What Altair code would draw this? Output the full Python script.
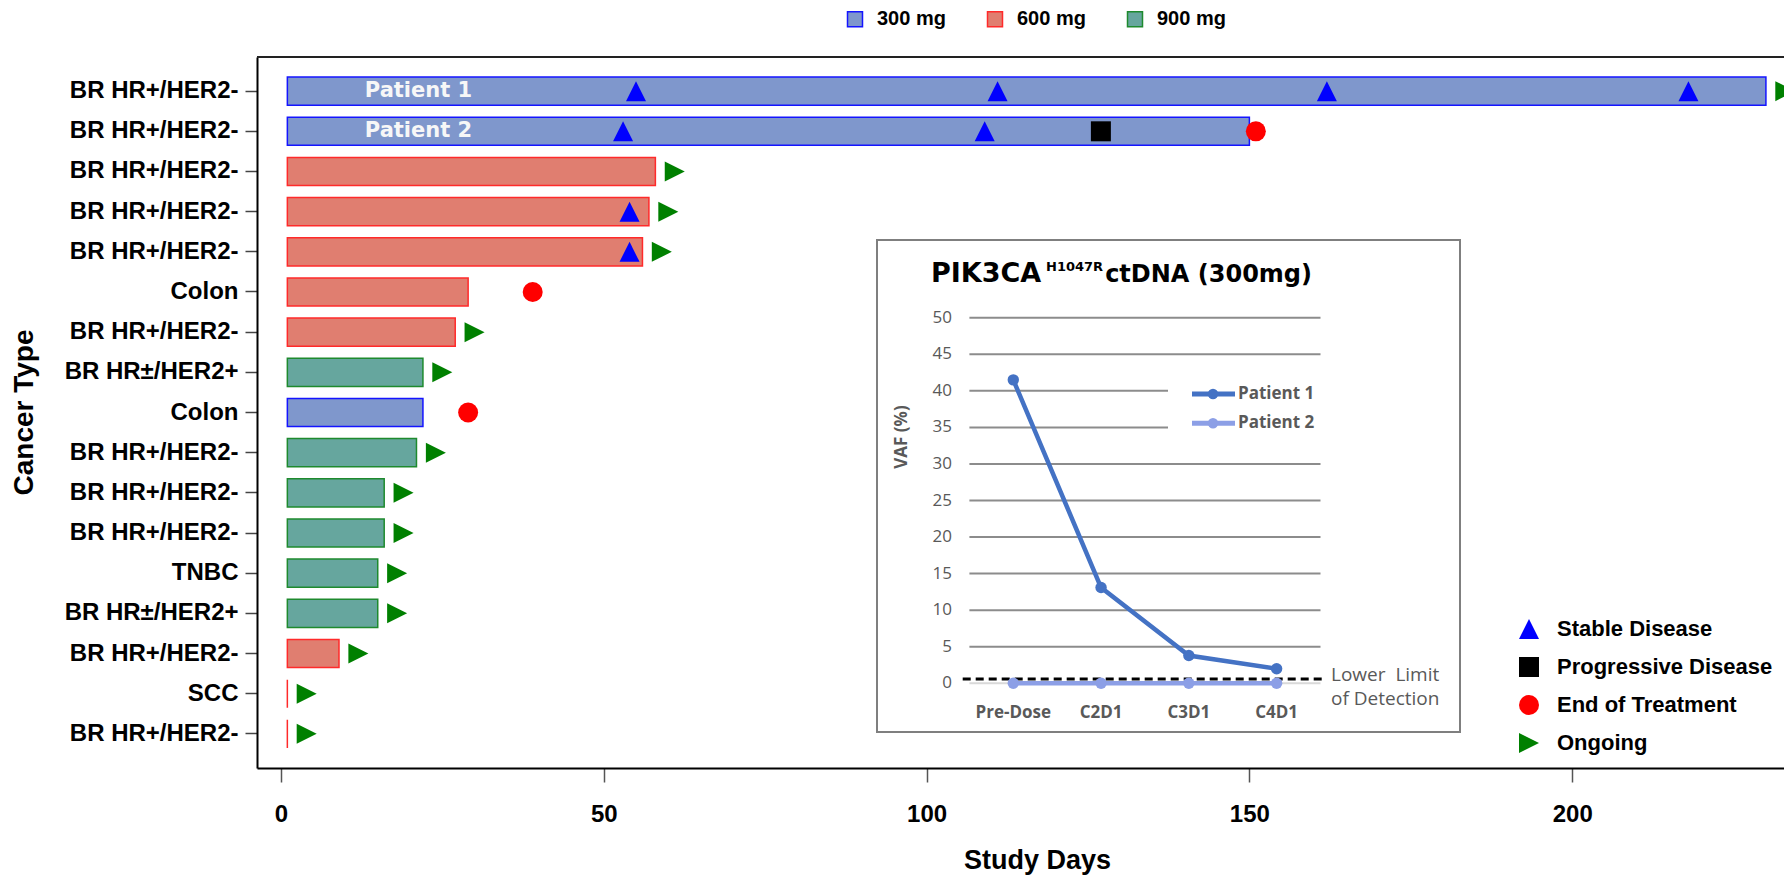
import json
import altair as alt
import pandas as pd

# ---------------- main swimmer-plot data ----------------
cancer_types = ["BR HR+/HER2-", "BR HR+/HER2-", "BR HR+/HER2-", "BR HR+/HER2-", "BR HR+/HER2-",
                "Colon", "BR HR+/HER2-", "BR HR±/HER2+", "Colon", "BR HR+/HER2-",
                "BR HR+/HER2-", "BR HR+/HER2-", "TNBC", "BR HR±/HER2+", "BR HR+/HER2-",
                "SCC", "BR HR+/HER2-"]
doses = ["300 mg", "300 mg", "600 mg", "600 mg", "600 mg",
         "600 mg", "600 mg", "900 mg", "300 mg", "900 mg",
         "900 mg", "900 mg", "900 mg", "900 mg", "600 mg",
         "600 mg", "600 mg"]
start_days = [1, 1, 1, 1, 1, 1, 1, 1, 1, 1, 1, 1, 1, 1, 1, 1, 1]
end_days = [230, 150, 58, 57, 56, 29, 27, 22, 22, 21, 16, 16, 15, 15, 9, 1, 1]

sd_rows = [1, 1, 1, 1, 2, 2, 4, 5]
sd_days = [55, 111, 162, 218, 53, 109, 54, 54]
pd_rows = [2]
pd_days = [127]
eot_rows = [2, 6, 9]
eot_days = [151, 39, 29]
og_rows = [1, 3, 4, 5, 7, 8, 10, 11, 12, 13, 14, 15, 16, 17]
og_days = [233, 61, 60, 59, 30, 25, 24, 19, 19, 18, 18, 12, 4, 4]

patient_labels = ["Patient 1", "Patient 2"]
patient_label_rows = [1, 2]
patient_label_days = [13, 13]

dose_levels = ["300 mg", "600 mg", "900 mg"]
dose_fill = ["#7F97CC", "#E07E70", "#66A69E"]
dose_stroke = ["#1414FF", "#FF2A2A", "#1E8A2E"]

event_levels = ["Stable Disease", "Progressive Disease", "End of Treatment", "Ongoing"]
event_colors = ["#0000FF", "#000000", "#FF0000", "#008000"]
event_shapes = ["M0,-1L1,1L-1,1Z", "square", "circle", "M-1,-1L1,0L-1,1Z"]

x_ticks = [0, 50, 100, 150, 200]
x_domain = [-3.7, 232.8]

# ---------------- inset (ctDNA) data ----------------
visits = ["Pre-Dose", "C2D1", "C3D1", "C4D1"]
vaf_patient1 = [41.5, 13.1, 3.8, 2.0]
vaf_patient2 = [0, 0, 0, 0]
series_names = ["Patient 1", "Patient 2"]
series_colors = ["#4472C4", "#8C9FE6"]
vaf_ticks = [0, 5, 10, 15, 20, 25, 30, 35, 40, 45, 50]
lod_value = 0.6
lod_label_lines = ["Lower\u00a0 Limit", "of Detection"]

# ---------------- layout ----------------
PL, PT = 257, 57          # page position of plot origin
W, H = 1527, 711
FONT = "Liberation Sans"
INSET_FONT = "Open Sans"
TITLE_FONT = "DejaVu Sans"
GRAY_TXT = "#595959"


def px(x):
    return x - PL


def py(y):
    return y - PT


rows = list(range(1, len(cancer_types) + 1))
bars_df = pd.DataFrame({"row": rows, "cancer": cancer_types, "dose": doses,
                        "start": start_days, "end": end_days})
events_df = pd.concat([
    pd.DataFrame({"row": sd_rows, "day": sd_days, "event": event_levels[0]}),
    pd.DataFrame({"row": pd_rows, "day": pd_days, "event": event_levels[1]}),
    pd.DataFrame({"row": eot_rows, "day": eot_days, "event": event_levels[2]}),
    pd.DataFrame({"row": og_rows, "day": og_days, "event": event_levels[3]}),
], ignore_index=True)
plabel_df = pd.DataFrame({"row": patient_label_rows, "day": patient_label_days, "label": patient_labels})
one = pd.DataFrame({"k": [0]})

x_scale = alt.Scale(domain=x_domain, nice=False, zero=False)
y_scale = alt.Scale(domain=rows, paddingInner=0.3, paddingOuter=0.5)

label_expr = json.dumps(cancer_types, ensure_ascii=False) + "[datum.value - 1]"

x_axis = alt.Axis(values=x_ticks, grid=False, domainColor="black", domainWidth=2,
                  tickColor="#555555", tickSize=14, tickWidth=1.5, labelFlush=False,
                  labelFont=FONT, labelFontSize=24, labelFontWeight="bold", labelColor="black",
                  labelPadding=20, title="Study Days", titleFont=FONT, titleFontSize=27,
                  titleFontWeight="bold", titleColor="black", titleX=780, titleY=92,
                  titleAlign="center", titleBaseline="middle")
y_axis = alt.Axis(labelExpr=label_expr, grid=False, domainColor="black", domainWidth=2,
                  tickColor="#444444", tickSize=12, tickWidth=1.5,
                  labelFont=FONT, labelFontSize=24, labelFontWeight="bold", labelColor="black",
                  labelPadding=7, labelLimit=400, title="Cancer Type", titleFont=FONT, titleFontSize=28,
                  titleFontWeight="bold", titleColor="black", titleAngle=270,
                  titleX=-233, titleY=355, titleAlign="center", titleBaseline="middle")

dose_legend = alt.Legend(orient="none", legendX=588, legendY=-48, direction="horizontal",
                         title=None, symbolType="square", symbolSize=225, symbolStrokeWidth=1.5,
                         symbolOpacity=1, labelFont=FONT, labelFontSize=20, labelFontWeight="bold",
                         labelColor="black", labelOffset=12, columnPadding=38, padding=0)
event_legend = alt.Legend(orient="none", legendX=1261, legendY=561, direction="vertical",
                          title=None, symbolSize=400, symbolStrokeWidth=0, symbolOpacity=1,
                          labelFont=FONT, labelFontSize=22, labelFontWeight="bold", labelLimit=600,
                          labelColor="black", labelOffset=17, rowPadding=16, padding=0)

bars = alt.Chart(bars_df).mark_bar(strokeWidth=1.5, opacity=1).encode(
    x=alt.X("start:Q", scale=x_scale, axis=x_axis),
    x2="end:Q",
    y=alt.Y("row:O", scale=y_scale, axis=y_axis),
    fill=alt.Fill("dose:N", scale=alt.Scale(domain=dose_levels, range=dose_fill), legend=dose_legend),
    stroke=alt.Stroke("dose:N", scale=alt.Scale(domain=dose_levels, range=dose_stroke), legend=dose_legend),
)

markers = alt.Chart(events_df).mark_point(filled=True, size=400, opacity=1, strokeWidth=0, clip=True).encode(
    x=alt.X("day:Q", scale=x_scale),
    y=alt.Y("row:O", scale=y_scale),
    color=alt.Color("event:N", scale=alt.Scale(domain=event_levels, range=event_colors), legend=event_legend),
    shape=alt.Shape("event:N", scale=alt.Scale(domain=event_levels, range=event_shapes), legend=event_legend),
)

ptext = alt.Chart(plabel_df).mark_text(align="left", baseline="middle", font=TITLE_FONT,
                                       fontWeight="bold", fontSize=21, color="#F7F7F7").encode(
    x=alt.X("day:Q", scale=x_scale),
    y=alt.Y("row:O", scale=y_scale),
    text="label:N",
)

top_border = alt.Chart(one).mark_rule(color="#222222", strokeWidth=2).encode(
    x=alt.value(0), x2=alt.value(W), y=alt.value(0))

main = alt.layer(bars, ptext, markers, top_border)

# ---------------- inset ----------------
vaf_rows = []
for s, vals in zip(series_names, [vaf_patient1, vaf_patient2]):
    for i, (v, val) in enumerate(zip(visits, vals)):
        vaf_rows.append({"series": s, "visit": v, "step": i, "vaf": val})
vaf_df = pd.DataFrame(vaf_rows)
grid_df = pd.DataFrame({"v": vaf_ticks})
lod_df = pd.DataFrame({"v": [lod_value]})
visit_df = pd.DataFrame({"visit": visits})

GX0, GX1 = px(969.4), px(1320.5)
visit_scale = alt.Scale(type="point", domain=visits, range=[GX0, GX1], padding=0.5)
vaf_scale = alt.Scale(domain=[0, 50], range=[py(683.3), py(317.7)], nice=False, zero=False)
series_color = alt.Scale(domain=series_names, range=series_colors)

box = alt.Chart(one).mark_rect(fill="white", stroke="#7F7F7F", strokeWidth=2).encode(
    x=alt.value(px(877)), x2=alt.value(px(1460)), y=alt.value(py(240)), y2=alt.value(py(732)))

grid = alt.Chart(grid_df).mark_rule(strokeWidth=2).encode(
    y=alt.Y("v:Q", scale=vaf_scale, axis=None),
    x=alt.value(GX0), x2=alt.value(GX1),
    color=alt.condition(alt.datum.v == 0, alt.value("#D9D9D9"), alt.value("#8C8C8C")),
)
ytick_text = alt.Chart(grid_df).mark_text(align="right", baseline="middle", font=INSET_FONT,
                                          fontSize=17, color=GRAY_TXT).encode(
    y=alt.Y("v:Q", scale=vaf_scale, axis=None),
    x=alt.value(px(952)),
    text="v:Q",
)
xlab_text = alt.Chart(visit_df).mark_text(align="center", baseline="middle", font=INSET_FONT,
                                          fontSize=17, fontWeight="bold", color=GRAY_TXT).encode(
    x=alt.X("visit:N", scale=visit_scale, axis=None),
    y=alt.value(py(713)),
    text="visit:N",
)
lines = alt.Chart(vaf_df).mark_line(strokeWidth=4.5).encode(
    x=alt.X("visit:N", scale=visit_scale, axis=None),
    y=alt.Y("vaf:Q", scale=vaf_scale, axis=None),
    color=alt.Color("series:N", scale=series_color, legend=None),
    order="step:Q",
)
lod = alt.Chart(lod_df).mark_rule(strokeDash=[8, 5], strokeWidth=3, color="black").encode(
    y=alt.Y("v:Q", scale=vaf_scale, axis=None),
    x=alt.value(px(962.7)), x2=alt.value(px(1322.5)),
)
pts = alt.Chart(vaf_df).mark_circle(size=130, opacity=1).encode(
    x=alt.X("visit:N", scale=visit_scale, axis=None),
    y=alt.Y("vaf:Q", scale=vaf_scale, axis=None),
    color=alt.Color("series:N", scale=series_color, legend=None),
)
lod_text1 = alt.Chart(one).mark_text(align="left", baseline="middle", font=INSET_FONT, fontSize=19,
                                     color=GRAY_TXT).encode(
    x=alt.value(px(1331)), y=alt.value(py(675)), text=alt.value(lod_label_lines[0]))
lod_text2 = alt.Chart(one).mark_text(align="left", baseline="middle", font=INSET_FONT, fontSize=19,
                                     color=GRAY_TXT).encode(
    x=alt.value(px(1331)), y=alt.value(py(698.5)), text=alt.value(lod_label_lines[1]))
t1 = alt.Chart(one).mark_text(align="left", baseline="alphabetic", font=TITLE_FONT, fontSize=27,
                              fontWeight="bold", color="black").encode(
    x=alt.value(px(931)), y=alt.value(py(282)), text=alt.value("PIK3CA"))
t2 = alt.Chart(one).mark_text(align="left", baseline="alphabetic", font=TITLE_FONT, fontSize=13,
                              fontWeight="bold", color="black").encode(
    x=alt.value(px(1046)), y=alt.value(py(271)), text=alt.value("H1047R"))
t3 = alt.Chart(one).mark_text(align="right", baseline="alphabetic", font=TITLE_FONT, fontSize=24,
                              fontWeight="bold", color="black").encode(
    x=alt.value(px(1312)), y=alt.value(py(282)), text=alt.value("ctDNA (300mg)"))
vaf_title = alt.Chart(one).mark_text(align="center", baseline="middle", font=INSET_FONT, fontSize=17,
                                     fontWeight="bold", color=GRAY_TXT, angle=270).encode(
    x=alt.value(px(902)), y=alt.value(py(437)), text=alt.value("VAF (%)"))

inset = alt.layer(box, grid, ytick_text, xlab_text, lines, lod, pts, lod_text1, lod_text2,
                  t1, t2, t3, vaf_title)

# ---------------- inset legend ----------------
leg_df = pd.DataFrame({"series": series_names})
leg_y = alt.Scale(type="point", domain=series_names, range=[py(394), py(423.3)], padding=0)
leg_box = alt.Chart(one).mark_rect(fill="white").encode(
    x=alt.value(px(1168)), x2=alt.value(px(1325)), y=alt.value(py(374)), y2=alt.value(py(444)))
leg_rule = alt.Chart(leg_df).mark_rule(strokeWidth=5).encode(
    x=alt.value(px(1192)), x2=alt.value(px(1235)),
    y=alt.Y("series:N", scale=leg_y, axis=None),
    color=alt.Color("series:N", scale=series_color, legend=None),
)
leg_pt = alt.Chart(leg_df).mark_circle(size=110, opacity=1).encode(
    x=alt.value(px(1213)),
    y=alt.Y("series:N", scale=leg_y, axis=None),
    color=alt.Color("series:N", scale=series_color, legend=None),
)
leg_text = alt.Chart(leg_df).mark_text(align="left", baseline="middle", font=INSET_FONT, fontSize=17,
                                       fontWeight="bold", color=GRAY_TXT).encode(
    x=alt.value(px(1238)),
    y=alt.Y("series:N", scale=leg_y, axis=None),
    text="series:N",
)
inset_legend = alt.layer(leg_box, leg_rule, leg_pt, leg_text)

chart = alt.layer(main, inset, inset_legend).resolve_scale(
    x="independent", y="independent", color="independent", shape="independent"
).properties(
    width=W, height=H,
    padding={"left": PL - 8, "top": PT - 8, "right": 0, "bottom": 108},
    autosize=alt.AutoSizeParams(type="none"),
).configure_view(stroke=None)

chart.save("out.html", embed_options={"renderer": "svg", "actions": False})
